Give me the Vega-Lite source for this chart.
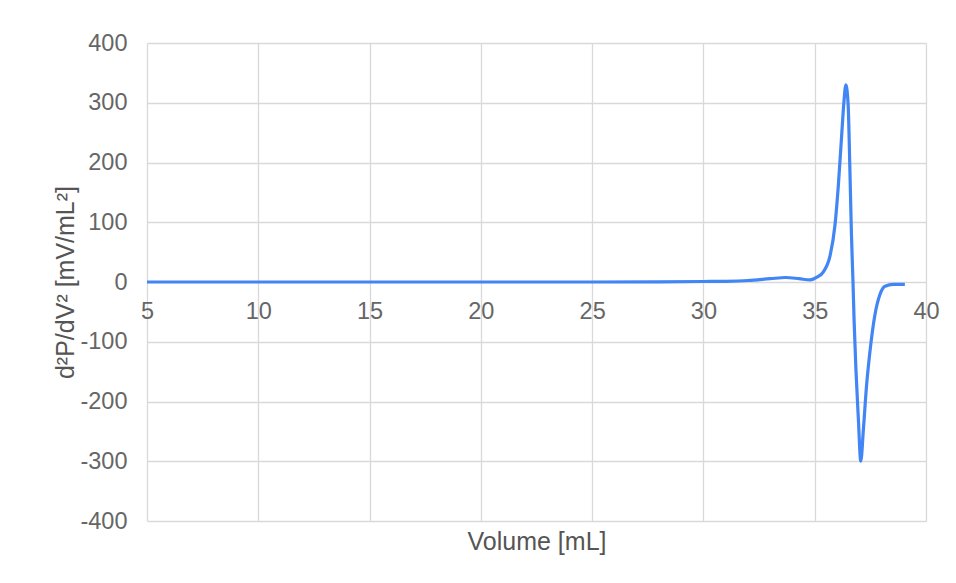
{
  "$schema": "https://vega.github.io/schema/vega-lite/v6.json",
  "width": 779,
  "height": 478,
  "autosize": {"type": "none"},
  "padding": {"left": 147, "top": 43, "right": 30, "bottom": 62},
  "background": "white",
  "config": {
    "view": {"stroke": null},
    "font": "Liberation Sans",
    "axis": {
      "labelColor": "#666666",
      "titleColor": "#555555",
      "labelFont": "Liberation Sans",
      "titleFont": "Liberation Sans",
      "labelFontSize": 23.5,
      "titleFontSize": 25,
      "titleFontWeight": "normal",
      "gridColor": "#d9d9d9",
      "gridWidth": 1.3,
      "gridOpacity": 1,
      "ticks": false,
      "domain": false
    }
  },
  "data": {
    "values": [
      {"volume": 5, "d2p": 0},
      {"volume": 10, "d2p": 0},
      {"volume": 15, "d2p": 0},
      {"volume": 20, "d2p": 0},
      {"volume": 25, "d2p": 0},
      {"volume": 28, "d2p": 0.3},
      {"volume": 30, "d2p": 0.8},
      {"volume": 31, "d2p": 1.2},
      {"volume": 32, "d2p": 2.5},
      {"volume": 33, "d2p": 5.5},
      {"volume": 33.7, "d2p": 7.5},
      {"volume": 34.3, "d2p": 5.5},
      {"volume": 34.8, "d2p": 3.5},
      {"volume": 35.1, "d2p": 8},
      {"volume": 35.39, "d2p": 17},
      {"volume": 35.69, "d2p": 44},
      {"volume": 35.91, "d2p": 95},
      {"volume": 36.06, "d2p": 161},
      {"volume": 36.21, "d2p": 245},
      {"volume": 36.31, "d2p": 300},
      {"volume": 36.4, "d2p": 330},
      {"volume": 36.5, "d2p": 298},
      {"volume": 36.58, "d2p": 189},
      {"volume": 36.65, "d2p": 80},
      {"volume": 36.72, "d2p": 0},
      {"volume": 36.77, "d2p": -65},
      {"volume": 36.85, "d2p": -145},
      {"volume": 36.96, "d2p": -228},
      {"volume": 37.07, "d2p": -300},
      {"volume": 37.19, "d2p": -245},
      {"volume": 37.33, "d2p": -173},
      {"volume": 37.48, "d2p": -117},
      {"volume": 37.7, "d2p": -56},
      {"volume": 37.93, "d2p": -21},
      {"volume": 38.16, "d2p": -7},
      {"volume": 38.53, "d2p": -4},
      {"volume": 39.05, "d2p": -4}
    ]
  },
  "mark": {
    "type": "line",
    "color": "#4285F4",
    "strokeWidth": 3.2,
    "interpolate": "monotone",
    "clip": false
  },
  "encoding": {
    "x": {
      "field": "volume",
      "type": "quantitative",
      "scale": {"domain": [5, 40], "nice": false, "zero": false},
      "axis": {
        "title": "Volume [mL]",
        "values": [5, 10, 15, 20, 25, 30, 35, 40],
        "offset": -239,
        "labelPadding": 17,
        "labelFlush": false,
        "titleY": 259,
        "titleBaseline": "middle",
        "grid": true
      }
    },
    "y": {
      "field": "d2p",
      "type": "quantitative",
      "scale": {"domain": [-400, 400], "nice": false},
      "axis": {
        "title": "d²P/dV² [mV/mL²]",
        "values": [-400, -300, -200, -100, 0, 100, 200, 300, 400],
        "labelExpr": "replace(datum.label, '−', '-')",
        "labelPadding": 20,
        "titlePadding": 1,
        "grid": true
      }
    }
  }
}
